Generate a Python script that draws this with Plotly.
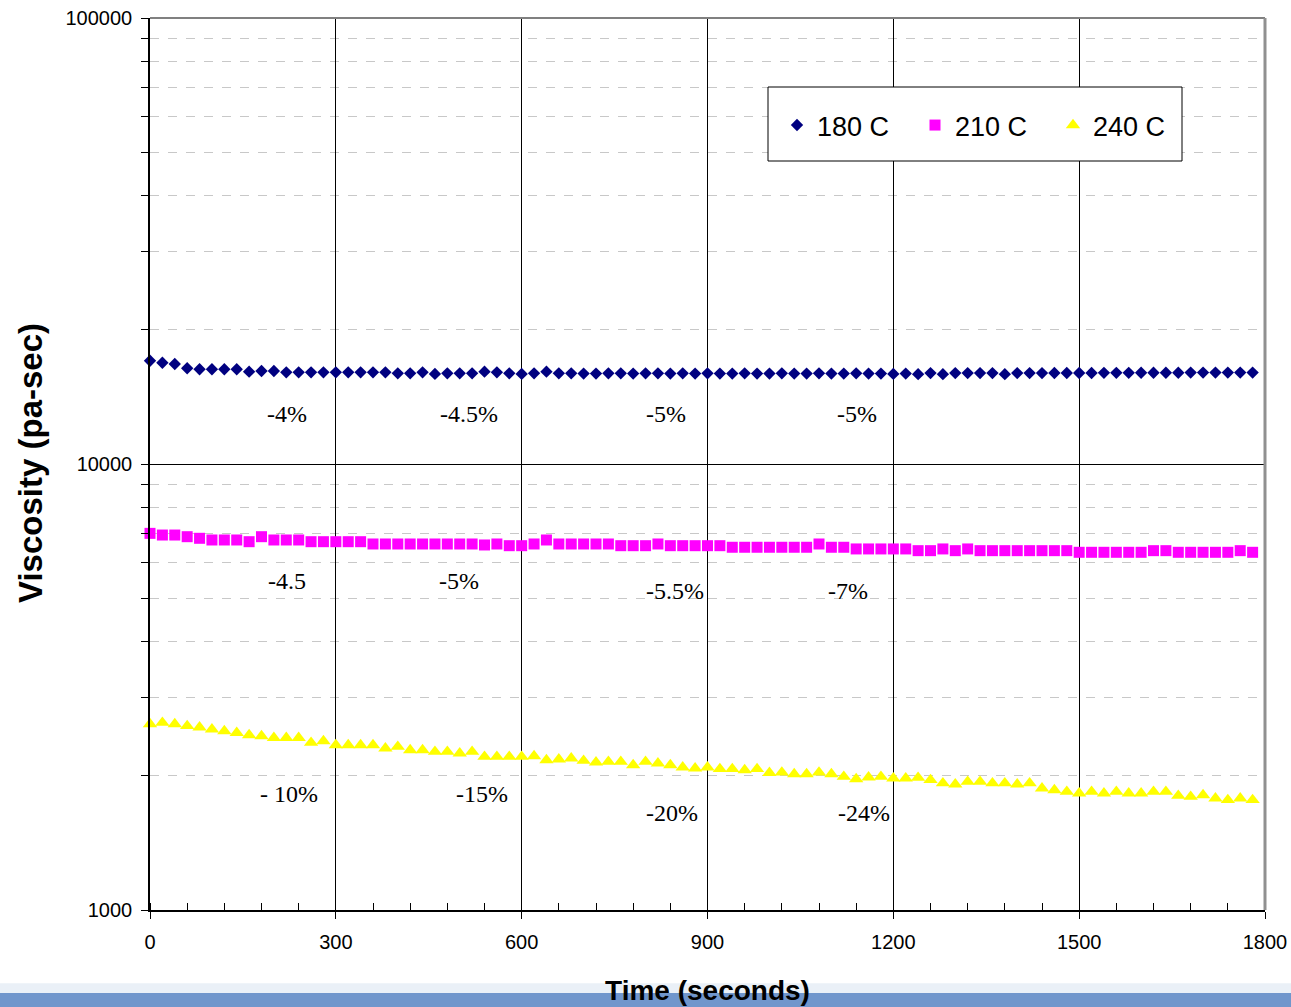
import math
import plotly.graph_objects as go

time_s = list(range(0, 1800, 20))

visc_180 = [17040, 16870, 16760, 16390, 16310, 16310, 16310, 16310, 16110, 16160,
            16160, 16050, 16050, 16050, 16050, 16050, 16050, 16050, 16050, 16050,
            15970, 15970, 16050, 15920, 15970, 15970, 15970, 16110, 16050, 15970,
            15920, 15970, 16110, 15970, 15970, 15950, 15950, 15970, 15970, 15950,
            15970, 15970, 15950, 15970, 15950, 15970, 15950, 15950, 15970, 15950,
            15950, 15970, 15950, 15950, 15970, 15950, 15950, 15970, 15950, 15950,
            15920, 15950, 15900, 15990, 15900, 15990, 15990, 15990, 15990, 15900,
            15990, 15990, 15990, 16000, 16000, 16000, 16000, 16010, 16010, 16010,
            16020, 16020, 16020, 16020, 16030, 16030, 16030, 16030, 16030, 16030]

visc_210 = [6990, 6930, 6930, 6871, 6814, 6755, 6755, 6755, 6696, 6871,
            6755, 6755, 6755, 6696, 6696, 6696, 6696, 6696, 6617, 6617,
            6617, 6617, 6617, 6617, 6617, 6617, 6617, 6583, 6617, 6559,
            6559, 6617, 6755, 6617, 6617, 6617, 6617, 6617, 6559, 6559,
            6559, 6617, 6559, 6559, 6559, 6559, 6559, 6506, 6506, 6506,
            6506, 6506, 6506, 6506, 6617, 6506, 6506, 6450, 6450, 6450,
            6450, 6450, 6393, 6393, 6450, 6393, 6450, 6393, 6393, 6393,
            6393, 6393, 6393, 6393, 6393, 6339, 6339, 6339, 6339, 6339,
            6339, 6393, 6393, 6339, 6339, 6339, 6339, 6339, 6393, 6339]

visc_240 = [2612, 2630, 2612, 2586, 2568, 2542, 2519, 2497, 2468, 2455,
            2433, 2433, 2433, 2372, 2392, 2344, 2344, 2344, 2344, 2305,
            2323, 2284, 2284, 2264, 2264, 2245, 2264, 2207, 2207, 2207,
            2207, 2214, 2169, 2177, 2188, 2161, 2143, 2150, 2150, 2114,
            2150, 2132, 2114, 2089, 2078, 2089, 2071, 2071, 2060, 2071,
            2031, 2035, 2018, 2018, 2035, 2018, 1990, 1966, 1984, 1990,
            1974, 1974, 1980, 1957, 1924, 1913, 1940, 1940, 1924, 1924,
            1913, 1924, 1874, 1858, 1842, 1827, 1842, 1827, 1842, 1827,
            1827, 1842, 1842, 1804, 1795, 1810, 1780, 1765, 1780, 1765]

series_names = ["180 C", "210 C", "240 C"]
series_colors = ["#000080", "#ff00ff", "#ffff00"]
series_symbols = ["diamond", "square", "triangle-up"]
series_sizes = [9.5, 11, 12.5]

# percent-change labels: (text, time, viscosity)
note_text = ["-4%", "-4.5%", "-5%", "-5%",
             "-4.5", "-5%", "-5.5%", "-7%",
             "- 10%", "-15%", "-20%", "-24%"]
note_time = [221, 515, 833, 1141,
             221, 499, 848, 1127,
             224, 536, 843, 1153]
note_visc = [12950, 12950, 12950, 12950,
             5467, 5467, 5190, 5190,
             1820, 1820, 1650, 1650]

x_ticks = [0, 300, 600, 900, 1200, 1500, 1800]
y_ticks = [1000, 10000, 100000]
y_ticklabels = ["1000", "10000", "100000"]

fig = go.Figure()
for name, vals, col, sym, sz in zip(series_names, [visc_180, visc_210, visc_240],
                                    series_colors, series_symbols, series_sizes):
    fig.add_trace(go.Scatter(x=time_s, y=vals, name=name, mode="markers",
                             cliponaxis=False,
                             marker=dict(color=col, symbol=sym, size=sz,
                                         line=dict(width=0))))

for txt, tx, vy in zip(note_text, note_time, note_visc):
    fig.add_annotation(x=tx, y=math.log10(vy), text=txt, showarrow=False,
                       font=dict(family="Liberation Serif", size=24, color="black"))

# y-axis title
fig.add_annotation(xref="paper", yref="paper", x=(30 - 150) / 1115, y=(910 - 463) / 892,
                   text="<b>Viscosity (pa-sec)</b>", textangle=-90, showarrow=False,
                   xanchor="center", yanchor="middle",
                   font=dict(family="Liberation Sans", size=33, color="black"))

# slide background strip at the bottom
fig.add_shape(type="rect", xref="paper", yref="paper", x0=-0.2, x1=1.05,
              y0=-0.082, y1=-0.093, fillcolor="#eaf0f7", line_width=0, layer="below")
fig.add_shape(type="rect", xref="paper", yref="paper", x0=-0.2, x1=1.05,
              y0=-0.093, y1=-0.11, fillcolor="#7096cc", line_width=0, layer="below")
# frame (top and right) in gray
fig.add_shape(type="line", xref="paper", yref="paper", x0=0, x1=1, y0=1, y1=1,
              line=dict(color="#808080", width=2))
fig.add_shape(type="line", xref="paper", yref="paper", x0=1, x1=1, y0=0, y1=1,
              line=dict(color="#909090", width=3))
# legend box
fig.add_shape(type="rect", xref="paper", yref="paper",
              x0=(768 - 150) / 1115, x1=(1182 - 150) / 1115,
              y0=(910 - 161) / 892, y1=(910 - 87) / 892,
              fillcolor="white", line=dict(color="black", width=1), layer="above")

fig.update_layout(
    width=1291, height=1007,
    margin=dict(l=150, r=26, t=18, b=97),
    paper_bgcolor="white", plot_bgcolor="white",
    font=dict(family="Liberation Sans", color="black"),
    showlegend=True,
    legend=dict(orientation="h", x=(777 - 150) / 1115, y=(910 - 101) / 892,
                xanchor="left", yanchor="top",
                bgcolor="rgba(0,0,0,0)", borderwidth=0,
                font=dict(family="Liberation Sans", size=27, color="black"),
                entrywidth=93, entrywidthmode="pixels"),
    xaxis=dict(range=[0, 1800], tickvals=x_ticks, ticks="outside", ticklen=7,
               tickcolor="black", tickfont=dict(size=20), ticklabelstandoff=6,
               automargin=False,
               showline=True, linecolor="black", linewidth=2,
               showgrid=True, gridcolor="black", gridwidth=1, zeroline=False,
               minor=dict(dtick=60, ticks="inside", ticklen=7, tickcolor="black",
                          showgrid=False),
               title=dict(text="<b>Time (seconds)</b>",
                          font=dict(size=28, family="Liberation Sans"), standoff=28)),
    yaxis=dict(type="log", range=[3, 5], tickvals=y_ticks, ticktext=y_ticklabels,
               ticks="outside", ticklen=7, tickcolor="black",
               tickfont=dict(size=20), ticklabelstandoff=5, automargin=False,
               showline=True, linecolor="black", linewidth=1.5,
               showgrid=True, gridcolor="black", gridwidth=1, zeroline=False,
               minor=dict(dtick="D1", ticks="outside", ticklen=7, tickcolor="black",
                          showgrid=True, gridcolor="#c8c8c8", griddash="dash",
                          gridwidth=1)),
)

fig.write_html("out.html", config={"displayModeBar": False},
               post_script="document.body.style.margin='0';")
